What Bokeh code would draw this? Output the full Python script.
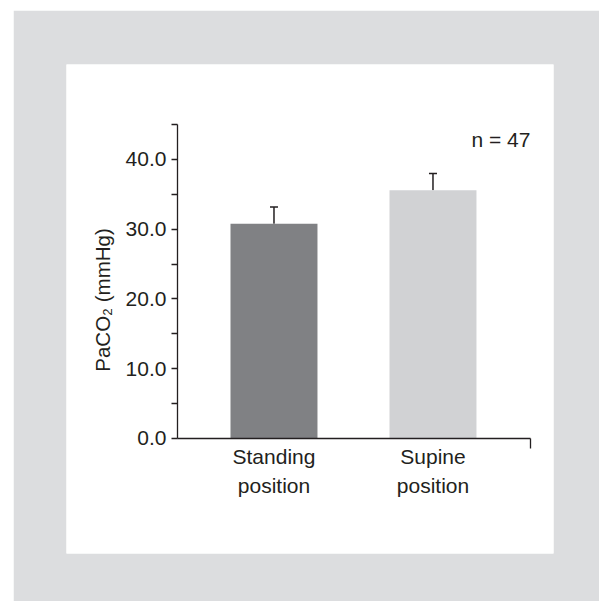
import numpy as np
from bokeh.plotting import figure
from bokeh.models import (Range1d, FixedTicker, NumeralTickFormatter, Whisker, TeeHead,
                          ColumnDataSource, Label)
from bokeh.embed import file_html
from bokeh.resources import INLINE

# ---- data ----
categories = ["Standing position", "Supine position"]
tick_labels = ["Standing\nposition", "Supine\nposition"]
means = [30.8, 35.6]
sds = [2.4, 2.4]
bar_colors = ["#808184", "#d1d2d4"]
y_major = [0, 10, 20, 30, 40]
y_minor = [5, 15, 25, 35, 45]
y_label = "PaCO\u2082 (mmHg)"
n_text = "n = 47"

FONT = "Liberation Sans"
TEXT = "#231f20"
FS = "21px"

xpos = [1, 2]
x_axis_start = 0.393
x_axis_end = 2.613

p = figure(frame_width=487, frame_height=489,
           min_border_left=53, min_border_right=46, min_border_top=54, min_border_bottom=48,
           x_range=Range1d(-0.305, 2.758), y_range=Range1d(-16.49, 53.62),
           output_backend="svg", toolbar_location=None,
           background_fill_color="white", border_fill_color="#dcdddf",
           outline_line_color=None)
p.margin = (10, 0, 0, 13)
p.xgrid.visible = False
p.ygrid.visible = False

src = ColumnDataSource(dict(x=xpos, top=means, color=bar_colors,
                            upper=[m + s for m, s in zip(means, sds)]))
p.vbar(x="x", top="top", bottom=0, width=0.547, fill_color="color", line_color=None, source=src)
p.add_layout(Whisker(source=src, base="x", lower="top", upper="upper", dimension="height",
                     line_color=TEXT, line_width=1.5, lower_head=None,
                     upper_head=TeeHead(size=8, line_color=TEXT, line_width=1.5)))

# y axis
ya = p.yaxis[0]
ya.fixed_location = x_axis_start
ya.bounds = (0, 45)
ya.ticker = FixedTicker(ticks=y_major, minor_ticks=y_minor)
ya.formatter = NumeralTickFormatter(format="0.0")
for ax in (ya, p.xaxis[0]):
    ax.axis_line_color = TEXT
    ax.axis_line_width = 1.3
    ax.major_tick_line_color = TEXT
    ax.minor_tick_line_color = TEXT
    ax.major_tick_line_width = 1.3
    ax.minor_tick_line_width = 1.3
    ax.major_label_text_font = FONT
    ax.major_label_text_font_size = FS
    ax.major_label_text_color = TEXT
ya.major_tick_out = 6
ya.major_tick_in = 0
ya.minor_tick_out = 6
ya.minor_tick_in = 0
ya.major_label_standoff = 5

# x axis
xa = p.xaxis[0]
xa.fixed_location = 0
xa.bounds = (x_axis_start, x_axis_end + 0.002)
xa.ticker = FixedTicker(ticks=xpos, minor_ticks=[x_axis_end])
xa.major_label_overrides = {x: t for x, t in zip(xpos, tick_labels)}
xa.major_tick_out = 0
xa.major_tick_in = 0
xa.minor_tick_out = 10
xa.minor_tick_in = 0
xa.major_label_standoff = -3
xa.major_label_text_line_height = 1.25

p.add_layout(Label(x=-0.079, y=19.86, text=y_label, angle=np.pi / 2,
                   text_align="center", text_baseline="middle",
                   text_font=FONT, text_font_size="20.5px", text_color=TEXT))
p.add_layout(Label(x=x_axis_end, y=42.9, text=n_text, text_align="right",
                   text_baseline="alphabetic",
                   text_font=FONT, text_font_size="21px", text_color=TEXT))

open("out.html", "w").write(file_html(p, INLINE))
